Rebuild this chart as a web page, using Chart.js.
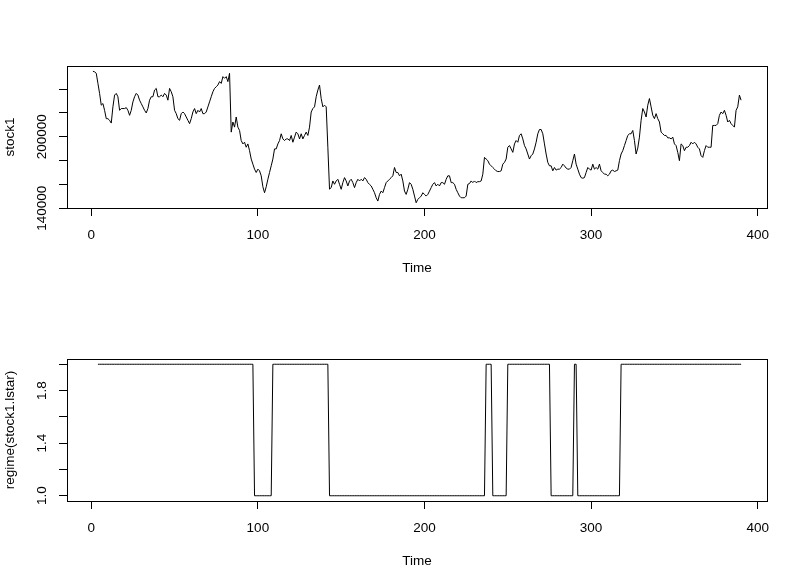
<!DOCTYPE html>
<html>
<head>
<meta charset="utf-8">
<script src="https://cdn.jsdelivr.net/npm/chart.js@4.4.1/dist/chart.umd.min.js"></script>
<style>
  body { margin: 0; background: #fff; }
  canvas { display: block; }
</style>
</head>
<body>
<canvas id="stockChart" width="800" height="293"></canvas>
<canvas id="regimeChart" width="800" height="293"></canvas>
<script>
// stock1, one value per time step starting at t = 1
const stockStart = 1;
const stock1 = [
  255000, 254500, 253300, 244800, 236400, 226500, 227900, 222200, 215200, 215200,
  213800, 211500, 225100, 235000, 236400, 233600, 222200, 223700, 223700, 223700,
  224500, 222200, 218000, 222200, 229300, 233600, 236400, 235000, 230700, 227900,
  225100, 222200, 220000, 223700, 230700, 233600, 233600, 239200, 240600, 233600,
  233600, 235000, 233600, 236400, 235000, 230700, 240600, 237800, 233600, 222200,
  219400, 215200, 213800, 219400, 220800, 219400, 216600, 213800, 211000, 215200,
  220800, 223700, 219400, 222200, 220800, 223700, 219400, 219400, 220800, 225100,
  229300, 233600, 237800, 240600, 242000, 243400, 246300, 244800, 250500, 249100,
  250500, 246300, 253300, 203900, 212400, 208100, 216600, 208100, 205300, 196800,
  194000, 195400, 191200, 194000, 188300, 181300, 177000, 172800, 170000, 172800,
  171400, 167200, 158000, 153000, 158000, 164300, 170000, 175600, 181300, 189800,
  189800, 194000, 196800, 202500, 198200, 196800, 198200, 198200, 196800, 201100,
  195400, 199700, 203900, 202500, 198200, 202500, 198200, 201100, 203900, 201100,
  208100, 220800, 223700, 225100, 233600, 239200, 243400, 232000, 225100, 226500,
  225100, 191200, 156000, 157300, 162900, 160100, 162900, 164300, 160100, 155900,
  161500, 165700, 162900, 158700, 162900, 164300, 161500, 157300, 161500, 164300,
  162900, 164300, 162900, 165700, 164300, 161500, 160000, 158700, 155900, 153000,
  148800, 146000, 151600, 154400, 153000, 157300, 161500, 162900, 164300, 165700,
  167200, 174200, 170000, 170000, 167200, 168600, 162900, 154400, 151600, 155900,
  161500, 160100, 155900, 150200, 144600, 147400, 148800, 150200, 153000, 151600,
  150200, 151600, 154400, 157300, 160100, 161500, 158700, 160100, 158700, 161500,
  161500, 160100, 164300, 167200, 167200, 161500, 161500, 160100, 155900, 153000,
  150200, 148800, 148800, 148800, 150200, 160100, 160700, 162900, 161500, 162900,
  161500, 162300, 162300, 162900, 168600, 182700, 181300, 179900, 177000, 175600,
  174200, 172800, 171400, 170800, 170800, 171400, 177000, 178500, 181300, 191200,
  192600, 189800, 186900, 194000, 196800, 195400, 201100, 202500, 198200, 192600,
  189800, 185500, 181300, 184100, 185500, 189800, 195400, 202500, 206100, 206100,
  202500, 194000, 185500, 178500, 175600, 175600, 171400, 174200, 172000, 172800,
  172800, 174200, 177000, 175600, 173700, 172800, 172800, 174200, 179900, 185500,
  177000, 172800, 168600, 165700, 165200, 165700, 170000, 174200, 172800, 172000,
  177000, 172800, 174200, 172800, 177000, 171400, 170000, 168600, 168600, 167200,
  168600, 171400, 172000, 170800, 171400, 172000, 179900, 185500, 188300, 192600,
  196800, 201100, 202500, 202500, 205300, 196800, 185500, 190500, 199700, 213800,
  223700, 220800, 216600, 226500, 232100, 225100, 218000, 215200, 219400, 215200,
  212400, 203900, 202500, 201100, 201100, 199100, 199100, 198200, 199700, 194000,
  192600, 186900, 179900, 194000, 192600, 188300, 191200, 191200, 192600, 195400,
  194000, 195400, 194000, 191200, 189800, 184100, 182700, 188300, 192600, 191200,
  191200, 191200, 209500, 209500, 209500, 211000, 218000, 220800, 219400, 222200,
  218000, 212400, 213800, 211000, 209500, 208100, 222200, 225100, 235000, 230700
];

// regime(stock1.lstar) as runs: [first t, last t, regime]
const regimeRuns = [
  [4, 97, 2], [98, 108, 1], [109, 142, 2], [143, 236, 1], [237, 240, 2],
  [241, 249, 1], [250, 275, 2], [276, 289, 1], [290, 291, 2], [292, 317, 1],
  [318, 390, 2]
];

const timeTicks = [0, 100, 200, 300, 400];
const stockTicks = [140000, 160000, 180000, 200000, 220000, 240000];
const stockLabels = [140000, 200000];
const regimeTicks = [1.0, 1.2, 1.4, 1.6, 1.8, 2.0];
const regimeLabels = [1.0, 1.4, 1.8];

const font = { family: '"Liberation Sans", Arial, sans-serif', size: 13.5 };

const stockPoints = stock1.map((v, i) => ({ x: stockStart + i, y: v }));
const regimePoints = [];
regimeRuns.forEach(([from, to, r]) => {
  for (let t = from; t <= to; t++) regimePoints.push({ x: t, y: r });
});

// R-like 4% padding around the data range
function pad(lo, hi) {
  const d = (hi - lo) * 0.04;
  return [lo - d, hi + d];
}

// box around the plot + rotated y labels, like base R
const rPlot = {
  id: 'rPlot',
  afterDraw(chart, args, opts) {
    const { ctx, chartArea: a } = chart;
    const ys = chart.scales.y;
    ctx.save();
    ctx.strokeStyle = '#000';
    ctx.lineWidth = 1;
    ctx.strokeRect(a.left + 0.5, a.top + 0.5, a.right - a.left, a.bottom - a.top);
    ctx.fillStyle = '#000';
    ctx.font = font.size + 'px ' + font.family;
    ctx.textAlign = 'center';
    ctx.textBaseline = 'middle';
    opts.labels.forEach(v => {
      ctx.save();
      ctx.translate(42, ys.getPixelForValue(v));
      ctx.rotate(-Math.PI / 2);
      ctx.fillText(v.toFixed(opts.digits), 0, 0);
      ctx.restore();
    });
    ctx.restore();
  }
};

function makeChart(id, points, xRange, yRange, yTicks, yLabels, digits, yTitle) {
  return new Chart(document.getElementById(id), {
    type: 'line',
    data: {
      datasets: [{
        data: points,
        borderColor: '#000',
        borderWidth: 1,
        pointRadius: 0,
        tension: 0,
        fill: false
      }]
    },
    options: {
      responsive: false,
      animation: false,
      layout: { padding: { top: 66, right: 33, left: 0, bottom: 0 } },
      plugins: {
        legend: { display: false },
        tooltip: { enabled: false },
        rPlot: { labels: yLabels, digits: digits }
      },
      scales: {
        x: {
          type: 'linear',
          min: xRange[0],
          max: xRange[1],
          afterBuildTicks: s => { s.ticks = timeTicks.map(v => ({ value: v })); },
          afterFit: s => { s.height = 85; },
          grid: { drawOnChartArea: false, color: '#000', tickLength: 8 },
          border: { display: false },
          ticks: { color: '#000', font: font, padding: 11, maxRotation: 0, autoSkip: false },
          title: { display: true, text: 'Time', color: '#000', font: font, padding: { top: 0, bottom: 17 } }
        },
        y: {
          type: 'linear',
          min: yRange[0],
          max: yRange[1],
          afterBuildTicks: s => { s.ticks = yTicks.map(v => ({ value: v })); },
          afterFit: s => { s.width = 67; },
          grid: { drawOnChartArea: false, color: '#000', tickLength: 8 },
          border: { display: false },
          ticks: { display: false },
          title: { display: true, text: yTitle, color: '#000', font: font, padding: { top: 2, bottom: 0 } }
        }
      }
    },
    plugins: [rPlot]
  });
}

const xRange = pad(stockStart, stockStart + stock1.length - 1);
const stockRange = pad(Math.min(...stock1), Math.max(...stock1));
const regimeRange = pad(1, 2);

makeChart('stockChart', stockPoints, xRange, stockRange, stockTicks, stockLabels, 0, 'stock1');
makeChart('regimeChart', regimePoints, xRange, regimeRange, regimeTicks, regimeLabels, 1, 'regime(stock1.lstar)');
</script>
</body>
</html>
